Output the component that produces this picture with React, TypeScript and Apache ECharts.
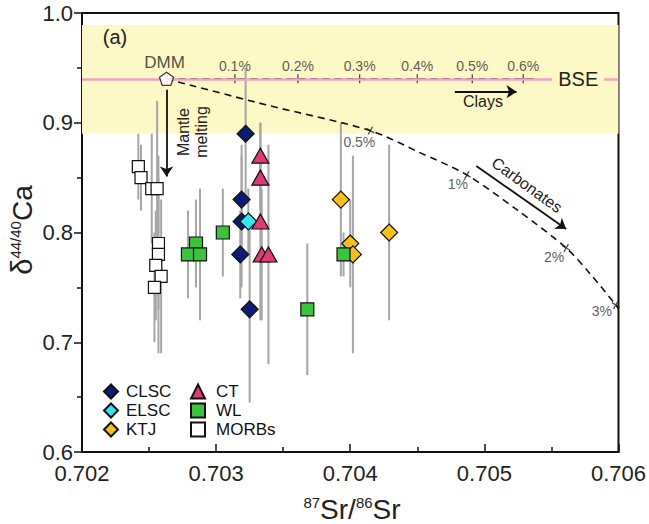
import React, { useEffect, useRef } from "react";
import * as echarts from "echarts";

const FONT = "'Liberation Sans', Arial, Helvetica, sans-serif";

// each row: [87Sr/86Sr, δ44/40Ca, 2SD]
const CLSC = [
  [0.70322, 0.89, 0.06],
  [0.70319, 0.83, 0.05],
  [0.70319, 0.81, 0.06],
  [0.70318, 0.78, 0.04],
  [0.70325, 0.73, 0.085],
];
const ELSC = [[0.70324, 0.81, 0.03]];
const KTJ = [
  [0.70393, 0.83, 0.07],
  [0.704, 0.79, 0.04],
  [0.70402, 0.78, 0.09],
  [0.70429, 0.8, 0.08],
];
const CT = [
  [0.70333, 0.87, 0.03],
  [0.70333, 0.85, 0.03],
  [0.70333, 0.81, 0.09],
  [0.70334, 0.78, 0.06],
  [0.70339, 0.78, 0.1],
];
const WL = [
  [0.70285, 0.79, 0.04],
  [0.70279, 0.78, 0.04],
  [0.70288, 0.78, 0.06],
  [0.70305, 0.8, 0.04],
  [0.70368, 0.73, 0.06],
  [0.70395, 0.78, 0.02],
];
const MORB = [
  [0.70242, 0.86, 0.03],
  [0.70244, 0.85, 0.03],
  [0.70252, 0.84, 0.05],
  [0.70256, 0.84, 0.08],
  [0.70257, 0.79, 0.06],
  [0.70257, 0.78, 0.09],
  [0.70255, 0.77, 0.05],
  [0.70259, 0.76, 0.07],
  [0.70254, 0.75, 0.05],
];

const DMM = [0.70263, 0.94];
const BSE_Y = 0.94;
const BSE_LABEL_X = 0.7057;
const BAND = [0.89, 0.989];

const CLAY_PCT = ["0.1%", "0.2%", "0.3%", "0.4%", "0.5%", "0.6%"];
const CLAY_X = [0.70314, 0.70361, 0.70407, 0.7045, 0.70491, 0.70529];
const CLAY_END_X = 0.70538;

const CARB_CURVE = [
  [0.70263, 0.94],
  [0.70337, 0.9164],
  [0.70415, 0.8928],
  [0.70451, 0.8733],
  [0.70487, 0.8524],
  [0.70524, 0.821],
  [0.70561, 0.7859],
  [0.70579, 0.7622],
  [0.70598, 0.734],
  [0.706, 0.7305],
];
const CARB_PCT = ["0.5%", "1%", "2%", "3%"];
const CARB_TICKS = [
  [0.70415, 0.8928],
  [0.70487, 0.8524],
  [0.70561, 0.7859],
  [0.70598, 0.734],
];
const CARB_LABEL_OFFSET = [
  [-11, 11],
  [-9, 9],
  [-12, 9],
  [-14, 6],
];

// annotation arrows [[x1,y1],[x2,y2]] in data units
const ARROW_CLAYS = [[0.70478, 0.9283], [0.70524, 0.9283]];
const ARROW_CARB = [[0.70494, 0.8606], [0.70561, 0.8032]];
const ARROW_MELT = [[0.70263, 0.93], [0.70263, 0.851]];

const X_TICKS = { min: 0.702, max: 0.706, step: 0.001 };
const Y_TICKS = { min: 0.6, max: 1.0, step: 0.1 };

const PENTAGON =
  "path://M50,0 L97.55,34.55 L79.39,90.45 L20.61,90.45 L2.45,34.55 Z";
const PLUS = "path://M0,5 L10,5 M5,0 L5,10";

const GROUPS = [
  { name: "MORBs", data: MORB, symbol: "rect", size: 12, color: "#ffffff" },
  { name: "CLSC", data: CLSC, symbol: "diamond", size: 17, color: "#0c1a78" },
  { name: "ELSC", data: ELSC, symbol: "diamond", size: 17, color: "#35e6f2" },
  { name: "CT", data: CT, symbol: "triangle", size: [17, 15], color: "#de3a74" },
  { name: "KTJ", data: KTJ, symbol: "diamond", size: 17, color: "#f6c01e" },
  { name: "WL", data: WL, symbol: "rect", size: 13, color: "#3cc43c" },
];

export default function App() {
  const ref = useRef<HTMLDivElement>(null);
  useEffect(() => {
    if (!ref.current) return;
    const chart = echarts.init(ref.current, null, { renderer: "svg" });

    const errData: number[][] = [];
    GROUPS.forEach((g) =>
      g.data.forEach((d) => errData.push([d[0], d[1] - d[2], d[1] + d[2]]))
    );

    const scatterSeries = GROUPS.map((g) => ({
      name: g.name,
      type: "scatter",
      data: g.data.map((d) => [d[0], d[1]]),
      symbol: g.symbol,
      symbolSize: g.size,
      itemStyle: { color: g.color, borderColor: "#111", borderWidth: 1.2, opacity: 1 },
      z: 5,
    }));

    const legendCommon = {
      orient: "vertical",
      top: 383,
      padding: 0,
      itemWidth: 14,
      itemHeight: 14,
      itemGap: 2,
      selectedMode: false,
    };

    const option: any = {
      animation: false,
      textStyle: { fontFamily: FONT },
      grid: {
        left: 82,
        right: 28,
        top: 13,
        bottom: 72,
        show: true,
        borderColor: "#111",
        borderWidth: 2,
        backgroundColor: "transparent",
      },
      xAxis: {
        type: "value",
        min: X_TICKS.min,
        max: X_TICKS.max,
        interval: X_TICKS.step,
        axisLine: { show: true, onZero: false, lineStyle: { color: "#111", width: 2 } },
        axisTick: { show: true, inside: true, length: 8, lineStyle: { color: "#111", width: 1.5 } },
        minorTick: { show: true, splitNumber: 2, length: 5, lineStyle: { color: "#111", width: 1.5 } },
        splitLine: { show: false },
        axisLabel: {
          formatter: (v: number) => v.toFixed(3),
          fontSize: 22,
          color: "#222",
          margin: 10,
          fontFamily: FONT,
          showMinLabel: true,
          showMaxLabel: true,
        },
      },
      yAxis: {
        type: "value",
        min: Y_TICKS.min,
        max: Y_TICKS.max,
        interval: Y_TICKS.step,
        axisLine: { show: true, onZero: false, lineStyle: { color: "#111", width: 2 } },
        axisTick: { show: true, inside: false, length: 8, lineStyle: { color: "#111", width: 1.5 } },
        minorTick: { show: true, splitNumber: 2, length: 5, lineStyle: { color: "#111", width: 1.5 } },
        splitLine: { show: false },
        axisLabel: {
          formatter: (v: number) => v.toFixed(1),
          fontSize: 22,
          color: "#222",
          margin: 9,
          fontFamily: FONT,
        },
      },
      legend: [
        {
          ...legendCommon,
          data: ["CLSC", "ELSC", "KTJ"],
          left: 103,
          textStyle: { fontSize: 17, color: "#111", fontFamily: FONT, lineHeight: 17, padding: [0, 0, 0, 3] },
        },
        {
          ...legendCommon,
          data: ["CT", "WL", "MORBs"],
          left: 190,
          textStyle: { fontSize: 17, color: "#111", fontFamily: FONT, lineHeight: 17, padding: [0, 0, 0, 6] },
        },
      ],
      series: [
        {
          name: "bg",
          type: "line",
          data: [],
          z: 0,
          markArea: {
            silent: true,
            itemStyle: { color: "#fcf9c6" },
            data: [[{ yAxis: BAND[0] }, { yAxis: BAND[1] }]],
          },
          markLine: {
            silent: true,
            symbol: "none",
            label: { show: false },
            lineStyle: { color: "#f2a2c0", width: 2.5, type: "solid" },
            data: [{ yAxis: BSE_Y }],
          },
        },
        {
          name: "err",
          type: "custom",
          z: 2,
          data: errData,
          encode: { x: 0, y: [1, 2] },
          renderItem: (params: any, api: any) => {
            const p1 = api.coord([api.value(0), api.value(1)]);
            const p2 = api.coord([api.value(0), api.value(2)]);
            return {
              type: "line",
              shape: { x1: p1[0], y1: p1[1], x2: p2[0], y2: p2[1] },
              style: { stroke: "#a6a6a6", lineWidth: 2 },
            };
          },
        },
        {
          name: "clayLine",
          type: "line",
          z: 3,
          data: [DMM, [CLAY_END_X, BSE_Y]],
          symbol: "none",
          lineStyle: { color: "#111", width: 1.6, type: [7, 5] },
        },
        {
          name: "clayTicks",
          type: "scatter",
          z: 3,
          data: CLAY_X.map((x, i) => ({
            value: [x, BSE_Y],
            label: { formatter: CLAY_PCT[i] },
          })),
          symbol: PLUS,
          symbolSize: 9,
          itemStyle: { color: "transparent", borderColor: "#222", borderWidth: 1.3 },
          label: {
            show: true,
            position: "inside",
            offset: [0, -13],
            fontSize: 14,
            color: "#333",
            fontFamily: FONT,
          },
        },
        {
          name: "carbCurve",
          type: "line",
          z: 3,
          data: CARB_CURVE,
          symbol: "none",
          smooth: 0.3,
          clip: true,
          lineStyle: { color: "#111", width: 1.6, type: [7, 5] },
        },
        {
          name: "carbTicks",
          type: "scatter",
          z: 3,
          data: CARB_TICKS.map((p, i) => ({
            value: p,
            label: { formatter: CARB_PCT[i], offset: CARB_LABEL_OFFSET[i] },
          })),
          symbol: PLUS,
          symbolSize: 9,
          symbolRotate: -30,
          itemStyle: { color: "transparent", borderColor: "#222", borderWidth: 1.3 },
          label: {
            show: true,
            position: "inside",
            fontSize: 14,
            color: "#333",
            fontFamily: FONT,
          },
        },
        {
          name: "arrows",
          type: "line",
          data: [],
          z: 4,
          markLine: {
            silent: true,
            symbol: ["none", "arrow"],
            symbolSize: 10,
            label: { show: false },
            lineStyle: { color: "#111", width: 1.8, type: "solid" },
            data: [ARROW_CLAYS, ARROW_CARB, ARROW_MELT].map((a) => [
              { coord: a[0] },
              { coord: a[1] },
            ]),
          },
        },
        ...scatterSeries,
        {
          name: "DMM",
          type: "scatter",
          z: 6,
          data: [DMM],
          symbol: PENTAGON,
          symbolSize: [14, 13],
          itemStyle: { color: "#ffffff", borderColor: "#111", borderWidth: 1.3 },
          label: {
            show: true,
            formatter: "DMM",
            position: "inside",
            offset: [-2, -16],
            fontSize: 17,
            color: "#222",
            fontFamily: FONT,
          },
        },
        {
          name: "BSE",
          type: "scatter",
          z: 6,
          data: [[BSE_LABEL_X, BSE_Y]],
          symbol: "circle",
          symbolSize: 2,
          itemStyle: { color: "#fcf9c6", opacity: 1 },
          label: {
            show: true,
            formatter: "BSE",
            position: "inside",
            fontSize: 20,
            color: "#222",
            fontFamily: FONT,
            backgroundColor: "#fcf9c6",
            padding: [2, 6],
          },
        },
      ],
      graphic: [
        {
          type: "text",
          x: 115,
          y: 37,
          style: { text: "(a)", fontSize: 20, fill: "#222", fontFamily: FONT, align: "center", verticalAlign: "middle" },
          z: 10,
        },
        {
          type: "text",
          x: 192,
          y: 132,
          rotation: Math.PI / 2,
          style: {
            text: "Mantle\nmelting",
            fontSize: 16,
            lineHeight: 18,
            fill: "#222",
            fontFamily: FONT,
            align: "center",
            verticalAlign: "middle",
          },
          z: 10,
        },
        {
          type: "text",
          x: 483,
          y: 101,
          style: { text: "Clays", fontSize: 16, fill: "#222", fontFamily: FONT, align: "center", verticalAlign: "middle" },
          z: 10,
        },
        {
          type: "text",
          x: 527,
          y: 185,
          rotation: (-36 * Math.PI) / 180,
          style: { text: "Carbonates", fontSize: 16, fill: "#222", fontFamily: FONT, align: "center", verticalAlign: "middle" },
          z: 10,
        },
        {
          type: "text",
          x: 22,
          y: 230,
          rotation: Math.PI / 2,
          style: {
            text: "{d|δ}{s|44/40}{c|Ca}",
            align: "center",
            verticalAlign: "middle",
            fill: "#222",
            fontFamily: FONT,
            rich: {
              d: { fontSize: 29, fontFamily: FONT, fill: "#222" },
              s: { fontSize: 15, fontFamily: FONT, fill: "#222", verticalAlign: "top" },
              c: { fontSize: 28, fontFamily: FONT, fill: "#222" },
            },
          },
          z: 10,
        },
        {
          type: "text",
          x: 352,
          y: 509,
          style: {
            text: "{s|87}{b|Sr/}{s|86}{b|Sr}",
            align: "center",
            verticalAlign: "middle",
            fill: "#222",
            fontFamily: FONT,
            rich: {
              b: { fontSize: 28, fontFamily: FONT, fill: "#222" },
              s: { fontSize: 15, fontFamily: FONT, fill: "#222", verticalAlign: "top" },
            },
          },
          z: 10,
        },
      ],
    };

    chart.setOption(option);
    return () => chart.dispose();
  }, []);

  return (
    <div
      ref={ref}
      style={{ position: "fixed", left: 0, top: 0, width: 649, height: 524, background: "#fff" }}
    />
  );
}
